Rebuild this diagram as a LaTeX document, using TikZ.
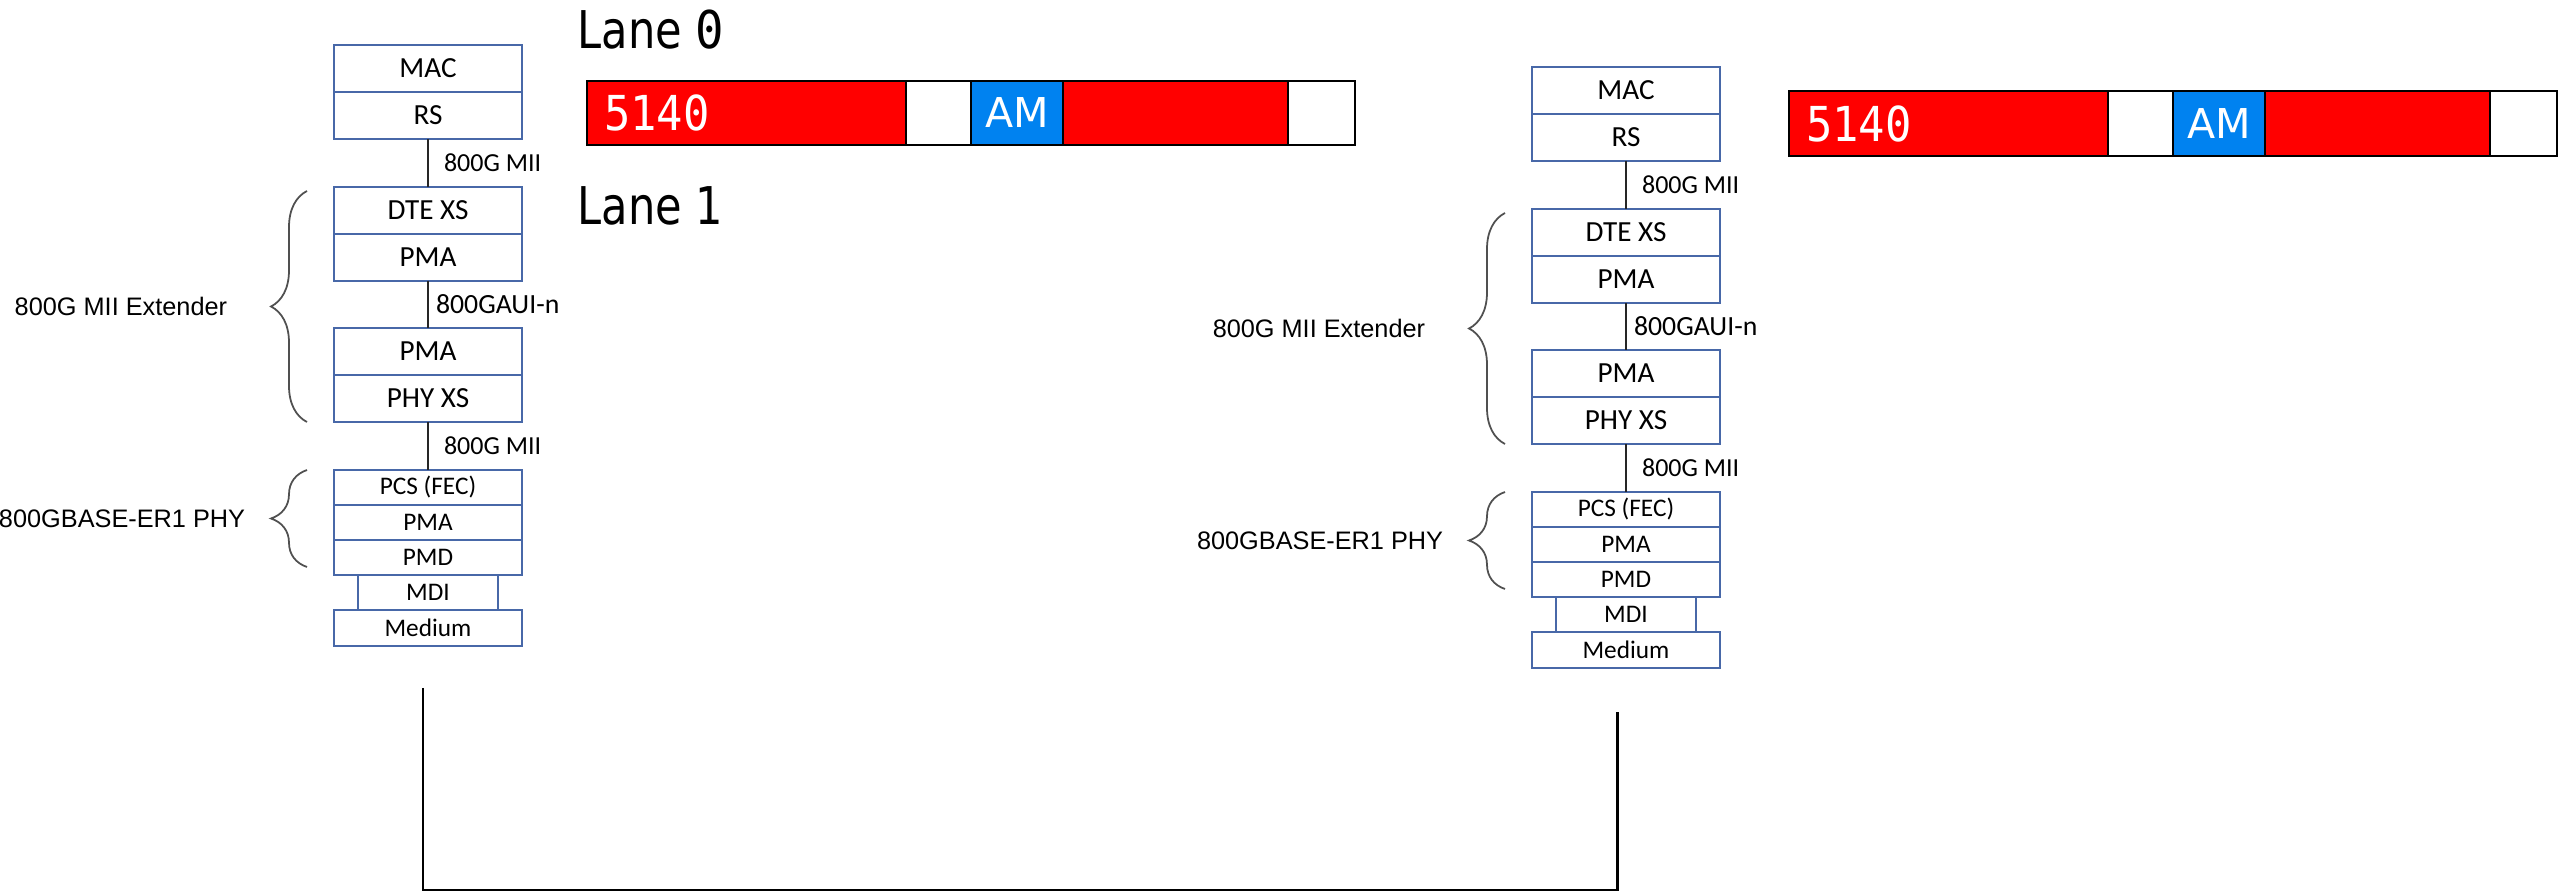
\documentclass[tikz,border=0pt]{standalone}
\usepackage{fontspec}
\setmainfont{Liberation Sans}
\newfontfamily\boxfont{Carlito}
\newfontfamily\sidefont{Liberation Sans}
\newfontfamily\lanefont[FakeStretch=0.83]{DejaVu Sans}
\newfontfamily\amfont{DejaVu Sans}
\newfontfamily\numfont[FakeStretch=0.91]{DejaVu Sans Mono}
\usetikzlibrary{positioning,decorations.pathreplacing}
\definecolor{layerblue}{RGB}{72,104,168}
\definecolor{fecred}{RGB}{255,0,0}
\definecolor{amblue}{RGB}{0,130,240}
\definecolor{bracegray}{RGB}{80,80,80}

\begin{document}
\begin{tikzpicture}[
      x=0.1mm, y=-0.1mm,
      layer/.style={draw=layerblue, line width=0.6pt, fill=white, inner sep=0pt,
                    outer sep=0pt, minimum width=18.8mm, minimum height=4.7mm,
                    font=\boxfont\fontsize{8.3pt}{10pt}\selectfont},
      thin layer/.style={layer, minimum height=3.5mm,
                         font=\boxfont\fontsize{7.2pt}{8pt}\selectfont},
      link/.style={draw=black!85, line width=0.6pt},
      linklabel/.style={anchor=west, inner sep=0pt,
                        font=\boxfont\fontsize{7.4pt}{8pt}\selectfont},
      lbrace/.style={draw=bracegray, line width=0.5pt, decorate,
                     decoration={brace, amplitude=3.6mm}},
      sidelabel/.style={inner sep=0pt, font=\sidefont\fontsize{7.2pt}{8pt}\selectfont},
      seg/.style={draw=black, line width=0.6pt, inner sep=0pt, outer sep=0pt,
                  minimum height=6.4mm},
      lanetext/.style={inner sep=0pt, font=\lanefont\fontsize{14.8pt}{16pt}\selectfont},
      fiber/.style={draw=black, line width=0.85pt},
    ]
    \useasboundingbox (0,0) rectangle (2560,894);

    % two protocol stacks
    \foreach \s/\cx/\cy in {l/428/68.5, r/1626/90.5} {
      \node[layer] (\s-mac) at (\cx,\cy) {MAC};
      \node[layer, below=0pt of \s-mac] (\s-rs) {RS};
      \node[layer, below=4.8mm of \s-rs] (\s-dte) {DTE XS};
      \node[layer, below=0pt of \s-dte] (\s-pma) {PMA};
      \node[layer, below=4.7mm of \s-pma] (\s-xpma) {PMA};
      \node[layer, below=0pt of \s-xpma] (\s-phyxs) {PHY XS};
      \node[thin layer, below=4.8mm of \s-phyxs] (\s-pcs) {PCS (FEC)};
      \node[thin layer, below=0pt of \s-pcs] (\s-ppma) {PMA};
      \node[thin layer, below=0pt of \s-ppma] (\s-pmd) {PMD};
      \node[thin layer, minimum width=14mm, below=0pt of \s-pmd] (\s-mdi) {MDI};
      \node[thin layer, minimum height=3.6mm, below=0pt of \s-mdi] (\s-medium) {Medium};

      \draw[link] (\s-rs) -- node[linklabel, xshift=1.5mm] {800G MII} (\s-dte);
      \draw[link] (\s-pma) -- node[linklabel, xshift=0.7mm,
        font=\boxfont\fontsize{7.9pt}{9pt}\selectfont] {800GAUI-n} (\s-xpma);
      \draw[link] (\s-phyxs) -- node[linklabel, xshift=1.5mm] {800G MII} (\s-pcs);

      \draw[lbrace] ([xshift=-2.7mm]\s-phyxs.south west)
        -- ([xshift=-2.7mm, yshift=-0.4mm]\s-dte.north west)
        node[sidelabel, midway, left=7.9mm] {800G MII Extender};
      \draw[lbrace] ([xshift=-2.7mm, yshift=0.8mm]\s-pmd.south west)
        -- ([xshift=-2.7mm]\s-pcs.north west)
        node[sidelabel, midway, left=6.1mm] {800GBASE-ER1 PHY};
    }

    \node[lanetext, anchor=base west] (lane0) at (577,48) {Lane {\numfont 0}};
    \node[lanetext, anchor=base west] (lane1) at (577,224) {Lane 1};

    % lane 0 block
    \node[seg, fill=fecred, anchor=west, inner xsep=1.7mm, text width=28.5mm,
          align=left, text=white, font=\numfont\fontsize{13.7pt}{15pt}\selectfont]
          (a-data) at (587,113) {5140};
    \node[seg, fill=white, minimum width=6.5mm, right=0pt of a-data] (a-pad) {};
    \node[seg, fill=amblue, minimum width=9.2mm, text=white, right=0pt of a-pad,
          font=\amfont\fontsize{11.7pt}{13pt}\selectfont] (a-am) {AM};
    \node[seg, fill=fecred, minimum width=22.5mm, right=0pt of a-am] (a-fec) {};
    \node[seg, fill=white, minimum width=6.7mm, right=0pt of a-fec] (a-end) {};

    % second block
    \node[seg, fill=fecred, anchor=west, minimum height=6.5mm, inner xsep=1.7mm,
          text width=28.5mm, align=left, text=white,
          font=\numfont\fontsize{13.7pt}{15pt}\selectfont]
          (b-data) at (1789,123.5) {5140};
    \node[seg, fill=white, minimum height=6.5mm, minimum width=6.5mm,
          right=0pt of b-data] (b-pad) {};
    \node[seg, fill=amblue, minimum height=6.5mm, minimum width=9.2mm, text=white,
          right=0pt of b-pad, font=\amfont\fontsize{11.7pt}{13pt}\selectfont]
          (b-am) {AM};
    \node[seg, fill=fecred, minimum height=6.5mm, minimum width=22.5mm,
          right=0pt of b-am] (b-fec) {};
    \node[seg, fill=white, minimum height=6.5mm, minimum width=6.7mm,
          right=0pt of b-fec] (b-end) {};

    % link between the two sides
    \draw[fiber] ([xshift=-0.5mm, yshift=-4.2mm]l-medium.south) -- ++(0,202)
      -| ([xshift=-0.9mm, yshift=-4.4mm]r-medium.south);
  \end{tikzpicture}
\end{document}
